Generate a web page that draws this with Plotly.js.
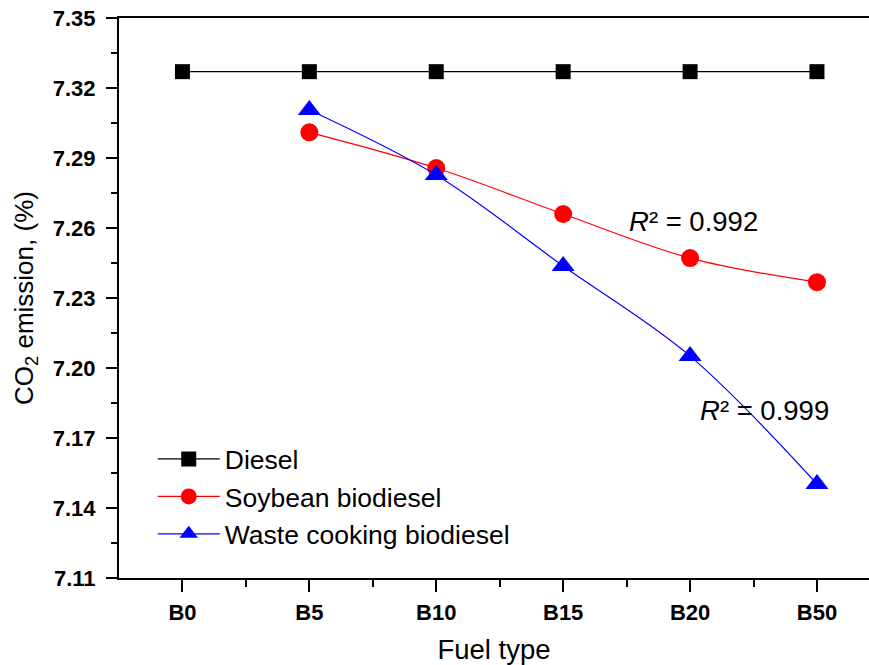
<!DOCTYPE html>
<html>
<head>
<meta charset="utf-8">
<script src="https://cdn.plot.ly/plotly-3.0.1.min.js"></script>
<style>html,body{margin:0;padding:0;background:#fff;}</style>
</head>
<body>
<div id="chart" style="width:869px;height:665px;"></div>
<script>
const categories = ["B0", "B5", "B10", "B15", "B20", "B50"];
const diesel = [7.327, 7.327, 7.327, 7.327, 7.327, 7.327];
const soybean = [null, 7.301, 7.2857, 7.266, 7.2471, 7.2368];
const wasteCooking = [null, 7.3106, 7.2827, 7.2437, 7.2051, 7.1503];
const yTicks = [7.11, 7.14, 7.17, 7.20, 7.23, 7.26, 7.29, 7.32, 7.35];
const r2Soy = "0.992";
const r2Waste = "0.999";

const xIdx = categories.map((_, i) => i);
const fontFam = "Arial, 'Liberation Sans', sans-serif";

const traces = [
  {
    x: xIdx, y: diesel, name: "Diesel", mode: "lines+markers",
    line: {color: "#000000", width: 1.2},
    marker: {symbol: "square", size: 15, color: "#000000", line: {color: "#000", width: 0}}
  },
  {
    x: xIdx, y: soybean, name: "Soybean biodiesel", mode: "lines+markers",
    line: {color: "#ff0000", width: 1.2, shape: "spline"},
    marker: {symbol: "circle", size: 18, color: "#ff0000"}
  },
  {
    x: xIdx, y: wasteCooking, name: "Waste cooking biodiesel", mode: "lines+markers",
    line: {color: "#0000ff", width: 1.2, shape: "spline"},
    marker: {symbol: "triangle-up", size: 20, color: "#0000ff"}
  }
];

const layout = {
  width: 869, height: 665,
  margin: {l: 119, r: 0, t: 18, b: 87},
  paper_bgcolor: "#fff", plot_bgcolor: "#fff",
  font: {family: fontFam, color: "#000"},
  showlegend: true,
  legend: {
    x: 0.045, y: 0.255, xanchor: "left", yanchor: "top",
    bgcolor: "rgba(0,0,0,0)", borderwidth: 0,
    font: {size: 26.5, family: fontFam, color: "#000"},
    itemwidth: 62, tracegroupgap: 0
  },
  xaxis: {
    range: [-0.5, 5.41],
    tickmode: "array", tickvals: xIdx, ticktext: categories,
    showline: true, linecolor: "#000", linewidth: 2, mirror: true,
    ticks: "outside", ticklen: 12, tickwidth: 2, tickcolor: "#000",
    tickfont: {size: 22, family: fontFam, weight: "bold"},
    ticklabelstandoff: 2,
    minor: {tickmode: "array", tickvals: xIdx.map(i => i + 0.5), ticks: "outside", ticklen: 7, tickwidth: 2, tickcolor: "#000"},
    showgrid: false, zeroline: false,
    title: {text: "Fuel type", font: {size: 27.5, family: fontFam}, standoff: 20}
  },
  yaxis: {
    range: [7.11, 7.35],
    tickmode: "array", tickvals: yTicks, ticktext: yTicks.map(v => v.toFixed(2)),
    showline: true, linecolor: "#000", linewidth: 2, mirror: false,
    ticks: "outside", ticklen: 11, tickwidth: 2, tickcolor: "#000",
    tickfont: {size: 22, family: fontFam, weight: "bold"},
    ticklabelstandoff: 6,
    minor: {dtick: 0.015, tick0: 7.11, ticks: "outside", ticklen: 6, tickwidth: 2, tickcolor: "#000"},
    showgrid: false, zeroline: false,
    title: {text: "CO<sub>2</sub> emission, (%)", font: {size: 26, family: fontFam}, standoff: 12}
  },
  annotations: [
    {x: 3.5, y: 7.2626, xref: "x", yref: "y", text: "<i>R</i>² = " + r2Soy, showarrow: false, xanchor: "left", yanchor: "middle",
     font: {size: 27.5, family: fontFam, color: "#000"}},
    {x: 4.06, y: 7.182, xref: "x", yref: "y", text: "<i>R</i>² = " + r2Waste, showarrow: false, xanchor: "left", yanchor: "middle",
     font: {size: 27.5, family: fontFam, color: "#000"}}
  ]
};

Plotly.newPlot("chart", traces, layout, {displayModeBar: false, staticPlot: true});
</script>
</body>
</html>
